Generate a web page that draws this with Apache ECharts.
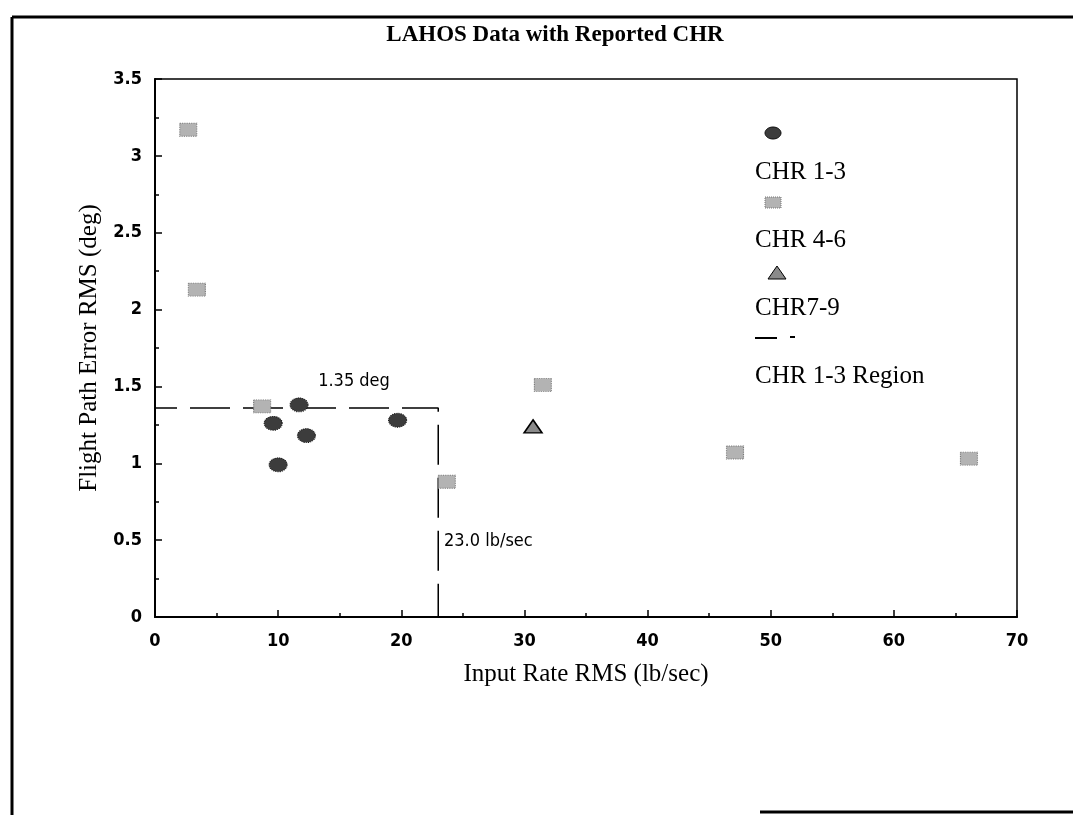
<!DOCTYPE html>
<html><head><meta charset="utf-8">
<script src="https://cdn.jsdelivr.net/npm/echarts@6/dist/echarts.min.js"></script>
<style>html,body{margin:0;padding:0;background:#fff}#c{width:1073px;height:815px}</style>
</head><body><div id="c"></div>
<script>
// ---- data ----
var seriesNames = ['CHR 1-3', 'CHR 4-6', 'CHR7-9', 'CHR 1-3 Region'];
var chr13 = [[11.7,1.38],[9.6,1.26],[12.3,1.18],[10.0,0.99],[19.7,1.28]];
var chr46 = [[2.7,3.17],[3.4,2.13],[8.7,1.37],[31.5,1.51],[23.7,0.88],[47.1,1.07],[66.1,1.03]];
var chr79 = [[30.7,1.24]];
var regionX = 23.0;
var regionY = 1.36;
var regionLine = [[0, regionY], [regionX, regionY], [regionX, 0]];
var xTicks = [0,10,20,30,40,50,60,70];
var yTicks = [0,0.5,1,1.5,2,2.5,3,3.5];

var darkFill = '#3c3c3c';
var lightFill = '#b3b3b3';
var triFill = '#8a8a8a';

var serif = 'Liberation Serif';
var sansN = 'DejaVu Sans Condensed';
var tickFont = {fontFamily: sansN, fontWeight: 'bold', fontSize: 18, color: '#000'};

var chart = echarts.init(document.getElementById('c'), null, {renderer: 'canvas'});
chart.setOption({
  backgroundColor: '#fff',
  animation: false,
  title: {
    text: 'LAHOS Data with Reported CHR', left: 550, textAlign: 'center', top: 19,
    textStyle: {fontFamily: serif, fontWeight: 'bold', fontSize: 23, color: '#000'}
  },
  grid: {left: 155, right: 56, top: 79, bottom: 198, show: true, borderColor: '#000', borderWidth: 1.5, backgroundColor: 'transparent'},
  xAxis: {
    type: 'value', min: 0, max: 70, interval: 10,
    name: 'Input Rate RMS (lb/sec)', nameLocation: 'middle', nameGap: 45,
    nameTextStyle: {fontFamily: serif, fontSize: 25, color: '#000'},
    axisLine: {show: true, lineStyle: {color: '#000', width: 2}},
    axisTick: {show: true, inside: true, length: 7, lineStyle: {color: '#000', width: 1.5}},
    minorTick: {show: true, splitNumber: 2, length: 4, lineStyle: {color: '#000', width: 1.5}},
    splitLine: {show: false},
    axisLabel: Object.assign({margin: 15, formatter: function(v){ return xTicks.indexOf(v) >= 0 ? String(v) : ''; }}, tickFont)
  },
  yAxis: {
    type: 'value', min: 0, max: 3.5, interval: 0.5,
    name: 'Flight Path Error RMS (deg)', nameLocation: 'middle', nameGap: 47, nameRotate: 90,
    nameTextStyle: {fontFamily: serif, fontSize: 25, color: '#000'},
    axisLine: {show: true, lineStyle: {color: '#000', width: 2}},
    axisTick: {show: true, inside: true, length: 7, lineStyle: {color: '#000', width: 1.5}},
    minorTick: {show: true, splitNumber: 2, length: 4, lineStyle: {color: '#000', width: 1.5}},
    splitLine: {show: false},
    axisLabel: Object.assign({margin: 13, formatter: function(v){ return yTicks.indexOf(v) >= 0 ? String(v) : ''; }}, tickFont)
  },
  series: [
    {name: seriesNames[0], type: 'scatter', data: chr13, symbol: 'circle', symbolSize: [18, 14], z: 3,
     itemStyle: {color: darkFill, borderColor: '#111', borderWidth: 1, borderType: 'dotted', opacity: 1}},
    {name: seriesNames[1], type: 'scatter', data: chr46, symbol: 'rect', symbolSize: [17, 13], z: 3,
     itemStyle: {color: lightFill, borderColor: '#777', borderWidth: 1, borderType: 'dotted', opacity: 1}},
    {name: seriesNames[2], type: 'scatter', data: chr79, symbol: 'triangle', symbolSize: [18, 13], z: 3,
     itemStyle: {color: triFill, borderColor: '#000', borderWidth: 1.5, opacity: 1}},
    {name: seriesNames[3], type: 'line', data: regionLine, symbol: 'none', z: 1,
     lineStyle: {color: '#000', width: 1.5, type: [40, 13], dashOffset: 18}}
  ],
  graphic: [
    // outer scanned frame
    {type: 'line', shape: {x1: 12, y1: 17, x2: 1073, y2: 17}, style: {stroke: '#000', lineWidth: 3}},
    {type: 'line', shape: {x1: 12, y1: 17, x2: 12, y2: 815}, style: {stroke: '#000', lineWidth: 3}},
    {type: 'line', shape: {x1: 760, y1: 812, x2: 1073, y2: 812}, style: {stroke: '#000', lineWidth: 3}},
    // annotations
    {type: 'text', x: 354, y: 381, style: {text: '1.35 deg', fontFamily: sansN, fontSize: 18, fill: '#000', textAlign: 'center', textVerticalAlign: 'middle'}},
    {type: 'text', x: 444, y: 541, style: {text: '23.0 lb/sec', fontFamily: sansN, fontSize: 18, fill: '#000', textAlign: 'left', textVerticalAlign: 'middle'}},
    // legend
    {type: 'ellipse', shape: {cx: 773, cy: 133, rx: 8, ry: 6}, style: {fill: darkFill, stroke: '#111', lineWidth: 1}},
    {type: 'text', x: 755, y: 172, style: {text: seriesNames[0], fontFamily: serif, fontSize: 25, fill: '#000', textVerticalAlign: 'middle'}},
    {type: 'rect', shape: {x: 765, y: 197, width: 16, height: 11}, style: {fill: lightFill, stroke: '#777', lineWidth: 1, lineDash: [1, 1]}},
    {type: 'text', x: 755, y: 240, style: {text: seriesNames[1], fontFamily: serif, fontSize: 25, fill: '#000', textVerticalAlign: 'middle'}},
    {type: 'polygon', shape: {points: [[777, 266], [768, 279], [786, 279]]}, style: {fill: triFill, stroke: '#000', lineWidth: 1}},
    {type: 'text', x: 755, y: 308, style: {text: seriesNames[2], fontFamily: serif, fontSize: 25, fill: '#000', textVerticalAlign: 'middle'}},
    {type: 'line', shape: {x1: 755, y1: 338, x2: 777, y2: 338}, style: {stroke: '#000', lineWidth: 2}},
    {type: 'line', shape: {x1: 790, y1: 337, x2: 795, y2: 337}, style: {stroke: '#000', lineWidth: 2}},
    {type: 'text', x: 755, y: 376, style: {text: seriesNames[3], fontFamily: serif, fontSize: 25, fill: '#000', textVerticalAlign: 'middle'}}
  ]
});
</script>
</body></html>
